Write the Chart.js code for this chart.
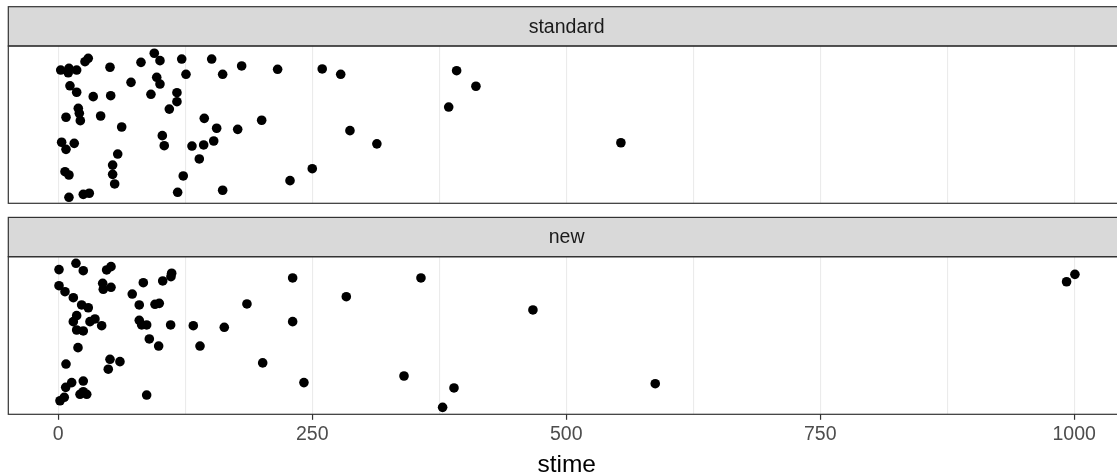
<!DOCTYPE html>
<html>
<head>
<meta charset="utf-8">
<script src="https://cdn.jsdelivr.net/npm/chart.js@4.4.1/dist/chart.umd.min.js"></script>
<style>
  html, body { margin:0; padding:0; background:#fff; overflow:hidden; width:1117px; height:474px; }
  #wrap { position:relative; width:1117px; height:474px; overflow:hidden; }
  canvas { position:absolute; left:0; }
  #cStd { top:0; }
  #cNew { top:210px; }
</style>
</head>
<body>
<div id="wrap">
  <canvas id="cStd" width="1126" height="210"></canvas>
  <canvas id="cNew" width="1126" height="270"></canvas>
</div>
<script>
// stime per treatment, plus the vertical jitter (0..1 within the panel)
const stdTime = [2.4,10.5,9.8,18.1,26.3,29.5,50.9,81.4,94.5,100.1,121.5,151.0,180.5,125.7,161.8,215.9,259.8,278.0,
  96.9,100.1,71.6,11.5,18.1,34.4,51.6,91.2,116.8,116.8,109.3,19.7,20.7,21.7,7.6,41.7,62.4,143.7,155.9,176.6,200.2,
  287.1,3.3,7.6,15.7,102.4,104.3,131.6,143.1,153.0,138.8,58.5,53.5,53.5,55.5,6.6,10.5,123.0,228.1,250.0,313.6,
  10.5,24.6,30.5,117.5,161.8,392.1,411.1,384.3,553.8];
const stdJit = [0.847,0.858,0.830,0.847,0.900,0.922,0.865,0.896,0.954,0.907,0.917,0.917,0.873,0.820,0.820,0.852,0.854,0.820,
  0.801,0.758,0.769,0.747,0.706,0.678,0.684,0.693,0.703,0.646,0.599,0.604,0.572,0.525,0.547,0.555,0.485,0.540,0.477,0.470,0.528,
  0.462,0.388,0.343,0.381,0.430,0.366,0.364,0.371,0.396,0.282,0.313,0.243,0.184,0.123,0.201,0.180,0.174,0.144,0.220,0.378,
  0.038,0.057,0.064,0.070,0.083,0.843,0.744,0.612,0.385];

const newTime = [0.7,17.4,24.6,47.6,51.9,0.7,6.6,14.8,43.7,44.3,51.9,72.8,83.7,102.8,111.6,110.9,230.7,283.5,
  23.0,29.5,79.7,95.2,99.4,185.7,18.1,14.8,18.1,24.6,31.2,36.1,42.7,79.7,82.1,87.0,110.6,132.9,163.4,230.7,
  89.6,98.8,139.5,19.4,7.6,50.9,60.7,49.2,201.2,241.8,13.2,7.3,24.6,1.7,5.9,21.4,28.0,24.6,87.0,
  357.0,467.2,340.3,389.5,378.3,587.6,992.5,1000.7];
const newJit = [0.918,0.958,0.911,0.916,0.937,0.816,0.778,0.740,0.831,0.793,0.806,0.763,0.835,0.846,0.895,0.873,0.865,0.746,
  0.694,0.676,0.694,0.698,0.704,0.700,0.626,0.588,0.535,0.529,0.588,0.605,0.562,0.596,0.567,0.567,0.567,0.562,0.552,0.588,
  0.478,0.433,0.433,0.423,0.319,0.349,0.334,0.286,0.326,0.201,0.201,0.171,0.211,0.086,0.108,0.127,0.127,0.143,0.122,
  0.865,0.662,0.243,0.167,0.044,0.194,0.841,0.888];

const panels = ['standard', 'new'];
const majorTicks = [0, 250, 500, 750, 1000];
const gridTicks = [0, 125, 250, 375, 500, 625, 750, 875, 1000];

const FONT = '"Liberation Sans", Arial, Helvetica, sans-serif';
const X_MIN = -49.2, X_MAX = 1050;

function pts(xs, ys){ return xs.map((x,i)=>({x:x, y:ys[i]})); }

const facetFrame = {
  id:'facetFrame',
  afterDraw(chart, args, opts){
    const {ctx, chartArea:a} = chart;
    const stripH = 39.3;
    ctx.save();
    // strip
    ctx.fillStyle = '#D9D9D9';
    ctx.fillRect(a.left, a.top - stripH, a.right - a.left, stripH);
    ctx.strokeStyle = '#333333';
    ctx.lineWidth = 1.2;
    ctx.strokeRect(a.left, a.top - stripH, a.right - a.left, stripH);
    ctx.fillStyle = '#1A1A1A';
    ctx.font = '19.5px ' + FONT;
    ctx.textAlign = 'center';
    ctx.textBaseline = 'middle';
    ctx.fillText(opts.label, (a.left + a.right) / 2, a.top - stripH / 2 + 1);
    // panel border
    ctx.strokeRect(a.left, a.top, a.right - a.left, a.bottom - a.top);
    ctx.restore();
  }
};

function makeChart(id, label, data, showAxis){
  const xScale = {
    type:'linear', min:X_MIN, max:X_MAX,
    afterBuildTicks: s => { s.ticks = gridTicks.map(v => ({value:v})); },
    grid:{
      color:'#EBEBEB', lineWidth:1.1,
      drawTicks:showAxis, tickLength:5.5, tickWidth:1.2,
      tickColor: c => (c.tick && majorTicks.includes(c.tick.value)) ? '#333333' : 'rgba(0,0,0,0)'
    },
    border:{display:false},
    ticks:{display:showAxis, color:'#4D4D4D', font:{family:FONT, size:19.5}, padding:3,
      autoSkip:false, maxRotation:0,
      callback: v => majorTicks.includes(v) ? String(v) : ''},
    title:{display:showAxis, text:'stime', color:'#000000', font:{family:FONT, size:24.5}, padding:{top:0, bottom:0}}
  };
  if (showAxis) xScale.afterFit = s => { s.height = 65.7; };
  return new Chart(document.getElementById(id), {
    type:'scatter',
    data:{datasets:[{label:label, data:data, backgroundColor:'#000000', borderWidth:0,
      pointRadius:4.8, pointHoverRadius:4.8}]},
    options:{
      responsive:false, animation:false, events:[],
      layout:{autoPadding:false, padding:{top: showAxis ? 46.7 : 46, left:8.3, right:1, bottom: showAxis ? 0 : 6.7}},
      plugins:{legend:{display:false}, tooltip:{enabled:false}, facetFrame:{label:label}},
      scales:{ x:xScale, y:{display:false, min:0, max:1} }
    },
    plugins:[facetFrame]
  });
}

makeChart('cStd', panels[0], pts(stdTime, stdJit), false);
makeChart('cNew', panels[1], pts(newTime, newJit), true);
</script>
</body>
</html>
